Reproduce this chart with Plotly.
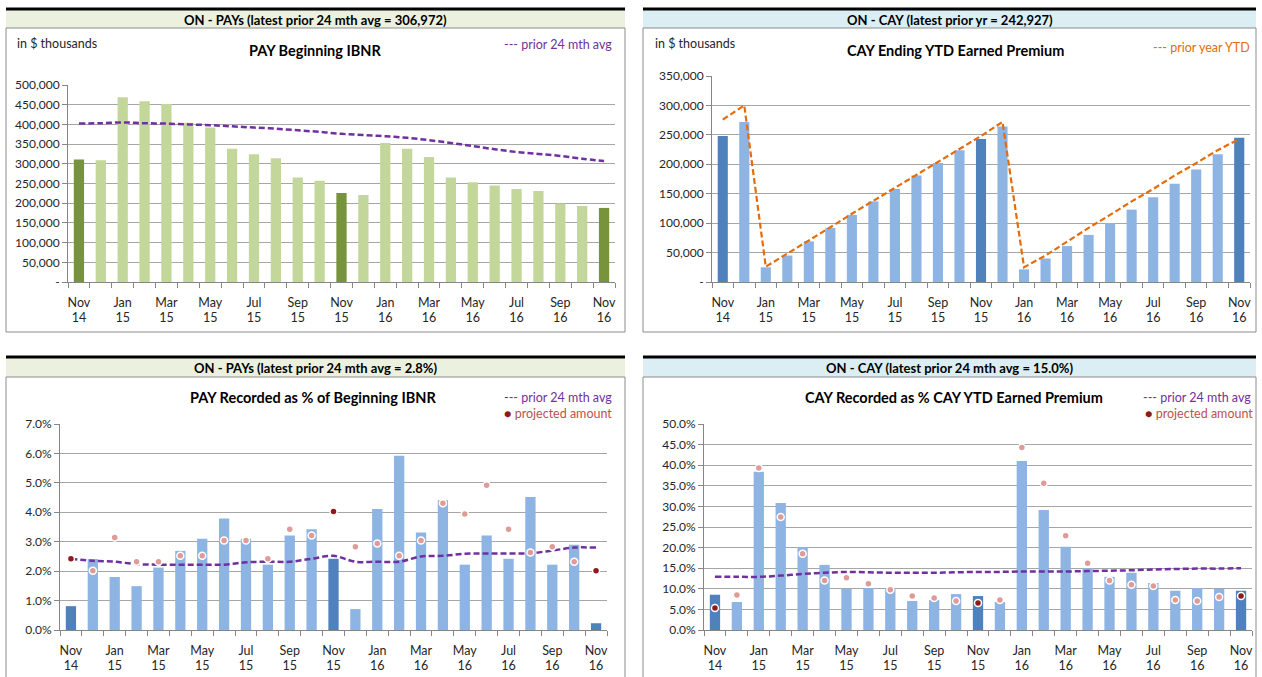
import plotly.graph_objects as go

W, H = 1262, 677

# ---- categories (monthly, Nov 2014 .. Nov 2016) ----
periods = ["Nov 14", "Dec 14", "Jan 15", "Feb 15", "Mar 15", "Apr 15", "May 15",
           "Jun 15", "Jul 15", "Aug 15", "Sep 15", "Oct 15", "Nov 15", "Dec 15",
           "Jan 16", "Feb 16", "Mar 16", "Apr 16", "May 16", "Jun 16", "Jul 16",
           "Aug 16", "Sep 16", "Oct 16", "Nov 16"]
year_end_idx = [0, 12, 24]

# ---- PAY beginning IBNR ($ thousands) ----
pay_ibnr = [311000, 309000, 469000, 459000, 452000, 404000, 392000, 338000, 324000,
            314000, 265000, 257000, 226000, 221000, 353000, 338000, 317000, 265000,
            253000, 245000, 236000, 231000, 199000, 193000, 188000]
pay_ibnr_avg = [402000, 403000, 405000, 403000, 402000, 400000, 398000, 395000, 392000,
                389000, 385000, 381000, 376000, 373000, 370000, 366000, 360000, 353000,
                345000, 337000, 330000, 325000, 320000, 313000, 306972]

# ---- CAY ending YTD earned premium ($ thousands) ----
cay_ep = [248000, 272000, 25000, 45000, 69000, 92000, 114000, 137000, 158000, 181000,
          202000, 224000, 242927, 264000, 21500, 40000, 61000, 80000, 100000, 123000,
          144000, 167000, 191000, 217000, 245000]
cay_ep_prior = [276000, 300000, 26000, 48000, 70000, 93000, 116000, 138000, 160000,
                182000, 204000, 226000, 248000, 272000, 25000, 45000, 69000, 92000,
                114000, 137000, 158000, 181000, 202000, 224000, 242927]

# ---- PAY recorded as % of beginning IBNR ----
pay_pct = [0.81, 2.41, 1.80, 1.49, 2.12, 2.69, 3.10, 3.79, 3.10, 2.22, 3.21, 3.42, 2.42,
           0.71, 4.11, 5.92, 3.31, 4.41, 2.22, 3.21, 2.42, 4.52, 2.22, 2.90, 0.23]
pay_pct_proj = [2.42, 2.01, 3.14, 2.32, 2.32, 2.52, 2.52, 3.04, 3.04, 2.42, 3.42, 3.21,
                4.03, 2.83, 2.94, 2.52, 3.04, 4.31, 3.94, 4.92, 3.42, 2.63, 2.83, 2.32, 2.01]
pay_pct_avg = [2.42, 2.35, 2.32, 2.24, 2.22, 2.22, 2.22, 2.22, 2.30, 2.32, 2.32, 2.42,
               2.52, 2.32, 2.32, 2.32, 2.50, 2.52, 2.59, 2.60, 2.60, 2.61, 2.70, 2.80, 2.80]

# ---- CAY recorded as % of CAY YTD earned premium ----
cay_pct = [8.56, 6.79, 38.4, 30.8, 20.1, 15.8, 10.0, 10.2, 10.0, 7.03, 7.27, 8.72, 8.24,
           6.79, 41.0, 29.1, 20.2, 15.0, 12.9, 13.9, 11.4, 9.53, 10.2, 10.0, 9.53]
cay_pct_proj = [5.33, 8.48, 39.3, 27.4, 18.5, 12.0, 12.7, 11.2, 9.77, 8.24, 7.75, 7.03,
                6.54, 7.27, 44.3, 35.6, 22.9, 16.2, 12.0, 11.0, 10.7, 7.27, 7.03, 8.00, 8.24]
cay_pct_avg = [12.9, 12.9, 12.9, 13.2, 13.6, 13.9, 14.1, 14.0, 13.9, 13.9, 13.9, 14.0,
               14.1, 14.1, 14.2, 14.2, 14.2, 14.3, 14.4, 14.5, 14.7, 14.8, 14.9, 14.9, 15.0]

# ---- tick labels ----
thousands_ticks = [0, 50000, 100000, 150000, 200000, 250000, 300000, 350000,
                   400000, 450000, 500000]
thousands_text = ["-" if v == 0 else f"{v:,}" for v in thousands_ticks]

FONT = "Lato"
GRID = "#A6A6A6"
AXIS = "#868686"
TXT = "#262626"
PURPLE = "#7030A0"
ORANGE = "#E46C0A"
GREEN_L, GREEN_D = "#C4D79B", "#77933C"
BLUE_L, BLUE_D = "#8DB4E2", "#4F81BD"
PINK, DARKRED = "#E09A98", "#8E1B1B"

x = list(range(len(periods)))
tickvals = x[::2]
month_text = [p.split(" ")[0] for p in periods[::2]]
year_text = [p.split(" ")[1] for p in periods[::2]]


def px(v):
    return v / W


def py(v):
    return 1 - v / H


def colors(light, dark):
    return [dark if i in year_end_idx else light for i in x]


fig = go.Figure()

# panel geometry in pixels
panels = [
    dict(l=6, r=625, top=8, box=28, bottom=332, band="#EBF1DE",
         header="ON - PAYs (latest prior 24 mth avg = 306,972)"),
    dict(l=643, r=1256, top=8, box=28, bottom=332, band="#DAEEF3",
         header="ON - CAY (latest prior yr = 242,927)"),
    dict(l=6, r=625, top=356, box=377, bottom=690, band="#EBF1DE",
         header="ON - PAYs (latest prior 24 mth avg = 2.8%)"),
    dict(l=643, r=1256, top=356, box=377, bottom=690, band="#DAEEF3",
         header="ON - CAY (latest prior 24 mth avg = 15.0%)"),
]

shapes = []
annotations = []
for p in panels:
    shapes.append(dict(type="rect", xref="paper", yref="paper", layer="below",
                       x0=px(p["l"]), x1=px(p["r"]), y0=py(p["top"] + 2), y1=py(p["box"]),
                       fillcolor=p["band"], line=dict(width=0)))
    shapes.append(dict(type="rect", xref="paper", yref="paper", layer="below",
                       x0=px(p["l"]), x1=px(p["r"]), y0=py(p["bottom"]), y1=py(p["box"]),
                       fillcolor="white", line=dict(color="#8C8C8C", width=1)))
    shapes.append(dict(type="line", xref="paper", yref="paper", layer="below",
                       x0=px(p["l"]), x1=px(p["r"]), y0=py(p["top"] + 1), y1=py(p["top"] + 1),
                       line=dict(color="black", width=3)))
    annotations.append(dict(xref="paper", yref="paper", x=px((p["l"] + p["r"]) / 2),
                            y=py(p["top"] + 12), text=f"<b>{p['header']}</b>",
                            showarrow=False, xanchor="center", yanchor="middle",
                            font=dict(family=FONT, size=13, color="black")))


def text(xp, yp, s, anchor="left", size=12.5, color=TXT):
    annotations.append(dict(xref="paper", yref="paper", x=px(xp), y=py(yp), text=s,
                            showarrow=False, xanchor=anchor, yanchor="middle",
                            font=dict(family=FONT, size=size, color=color)))


# chart titles, units and legend texts
text(15, 43, "in $ thousands")
text(653, 43, "in $ thousands")
text(315, 50, "<b>PAY Beginning IBNR</b>", "center", 14.5, "black")
text(955, 50, "<b>CAY Ending YTD Earned Premium</b>", "center", 14.5, "black")
text(313, 397, "<b>PAY Recorded as % of Beginning IBNR</b>", "center", 14.5, "black")
text(954, 397, "<b>CAY Recorded as % CAY YTD Earned Premium</b>", "center", 14.5, "black")
text(614, 45, "--- prior 24 mth avg", "right", 12.5, PURPLE)
text(1252, 48, "--- prior year YTD", "right", 12.5, ORANGE)
text(614, 397, "--- prior 24 mth avg", "right", 12.5, PURPLE)
text(614, 413, f"<span style='color:{DARKRED}'>●</span> projected amount", "right", 12.5, "#C0504D")
text(1253, 397, "--- prior 24 mth avg", "right", 12.5, PURPLE)
text(1255, 413, f"<span style='color:{DARKRED}'>●</span> projected amount", "right", 12.5, "#C0504D")

# ---- traces ----
BW = 0.47
DASH = "6px,3px"
fig.add_trace(go.Bar(x=x, y=pay_ibnr, width=BW, marker=dict(color=colors(GREEN_L, GREEN_D), line_width=0),
                     xaxis="x", yaxis="y", showlegend=False))
fig.add_trace(go.Scatter(x=x, y=pay_ibnr_avg, mode="lines", line=dict(color=PURPLE, width=2.5, dash=DASH, shape="spline"),
                         xaxis="x", yaxis="y", showlegend=False))

fig.add_trace(go.Bar(x=x, y=cay_ep, width=BW, marker=dict(color=colors(BLUE_L, BLUE_D), line_width=0),
                     xaxis="x2", yaxis="y2", showlegend=False))
fig.add_trace(go.Scatter(x=x, y=cay_ep_prior, mode="lines", line=dict(color=ORANGE, width=2.2, dash=DASH),
                         xaxis="x2", yaxis="y2", showlegend=False))

fig.add_trace(go.Bar(x=x, y=pay_pct, width=BW, marker=dict(color=colors(BLUE_L, BLUE_D), line_width=0),
                     xaxis="x3", yaxis="y3", showlegend=False))
fig.add_trace(go.Scatter(x=x, y=pay_pct_avg, mode="lines", line=dict(color=PURPLE, width=2.5, dash=DASH, shape="spline"),
                         xaxis="x3", yaxis="y3", showlegend=False))
fig.add_trace(go.Scatter(x=x, y=pay_pct_proj, mode="markers",
                         marker=dict(size=7, color=colors(PINK, DARKRED), line=dict(color="white", width=1.5)),
                         xaxis="x3", yaxis="y3", showlegend=False))

fig.add_trace(go.Bar(x=x, y=cay_pct, width=BW, marker=dict(color=colors(BLUE_L, BLUE_D), line_width=0),
                     xaxis="x4", yaxis="y4", showlegend=False))
fig.add_trace(go.Scatter(x=x, y=cay_pct_avg, mode="lines", line=dict(color=PURPLE, width=2.5, dash=DASH, shape="spline"),
                         xaxis="x4", yaxis="y4", showlegend=False))
fig.add_trace(go.Scatter(x=x, y=cay_pct_proj, mode="markers",
                         marker=dict(size=7, color=colors(PINK, DARKRED), line=dict(color="white", width=1.5)),
                         xaxis="x4", yaxis="y4", showlegend=False))

# invisible carrier traces so the year-label axes get drawn
for k in range(5, 9):
    fig.add_trace(go.Scatter(x=[x[0]], y=[0], mode="markers", marker=dict(opacity=0),
                             hoverinfo="skip", showlegend=False,
                             xaxis=f"x{k}", yaxis=f"y{k - 4}" if k > 5 else "y"))

XRANGE = [-0.5, len(x) - 0.5]


def xaxis(dom, anchor):
    return dict(domain=dom, anchor=anchor, range=XRANGE, tickmode="array", automargin=False,
                tickvals=tickvals, ticktext=month_text, ticks="", showgrid=False, zeroline=False,
                showline=True, linecolor=AXIS, linewidth=1, ticklabelstandoff=9,
                tickfont=dict(family=FONT, size=12.5, color=TXT),
                minor=dict(tickmode="array", tickvals=[i - 0.5 for i in range(len(x) + 1)],
                           ticks="outside", ticklen=5, tickcolor=AXIS, showgrid=False))


def year_axis(over, anchor):
    return dict(overlaying=over, anchor=anchor, side="bottom", range=XRANGE, tickmode="array",
                automargin=False, tickvals=tickvals, ticktext=year_text, ticks="", showgrid=False,
                zeroline=False, showline=False, ticklabelstandoff=26,
                tickfont=dict(family=FONT, size=12.5, color=TXT))


def yaxis(dom, anchor, rng, **kw):
    d = dict(domain=dom, anchor=anchor, range=rng, showgrid=True, gridcolor=GRID, gridwidth=1.2,
             automargin=False, zeroline=False, showline=True, linecolor=AXIS, linewidth=1,
             ticks="outside", ticklen=5, tickcolor=AXIS, tickfont=dict(family=FONT, size=12, color=TXT))
    d.update(kw)
    return d


top_dom = [py(282), py(85)]
top_dom2 = [py(282), py(76)]
bot_dom = [py(630), py(424)]

fig.update_layout(
    width=W, height=H, margin=dict(l=0, r=0, t=0, b=0, autoexpand=False),
    paper_bgcolor="white", plot_bgcolor="rgba(0,0,0,0)",
    barmode="overlay", shapes=shapes, annotations=annotations,
    xaxis=xaxis([px(68), px(615)], "y"),
    yaxis=yaxis(top_dom, "x", [0, 500000], tickmode="array",
                tickvals=thousands_ticks, ticktext=thousands_text),
    xaxis2=xaxis([px(712), px(1250)], "y2"),
    yaxis2=yaxis(top_dom2, "x2", [0, 350000], tickmode="array",
                 tickvals=thousands_ticks[:8], ticktext=thousands_text[:8]),
    xaxis3=xaxis([px(60), px(607)], "y3"),
    yaxis3=yaxis(bot_dom, "x3", [0, 7], dtick=1, tickformat=".1f", ticksuffix="%"),
    xaxis4=xaxis([px(704), px(1252)], "y4"),
    yaxis4=yaxis(bot_dom, "x4", [0, 50], dtick=5, tickformat=".1f", ticksuffix="%"),
    xaxis5=year_axis("x", "y"),
    xaxis6=year_axis("x2", "y2"),
    xaxis7=year_axis("x3", "y3"),
    xaxis8=year_axis("x4", "y4"),
)

fig.write_html("out.html")
